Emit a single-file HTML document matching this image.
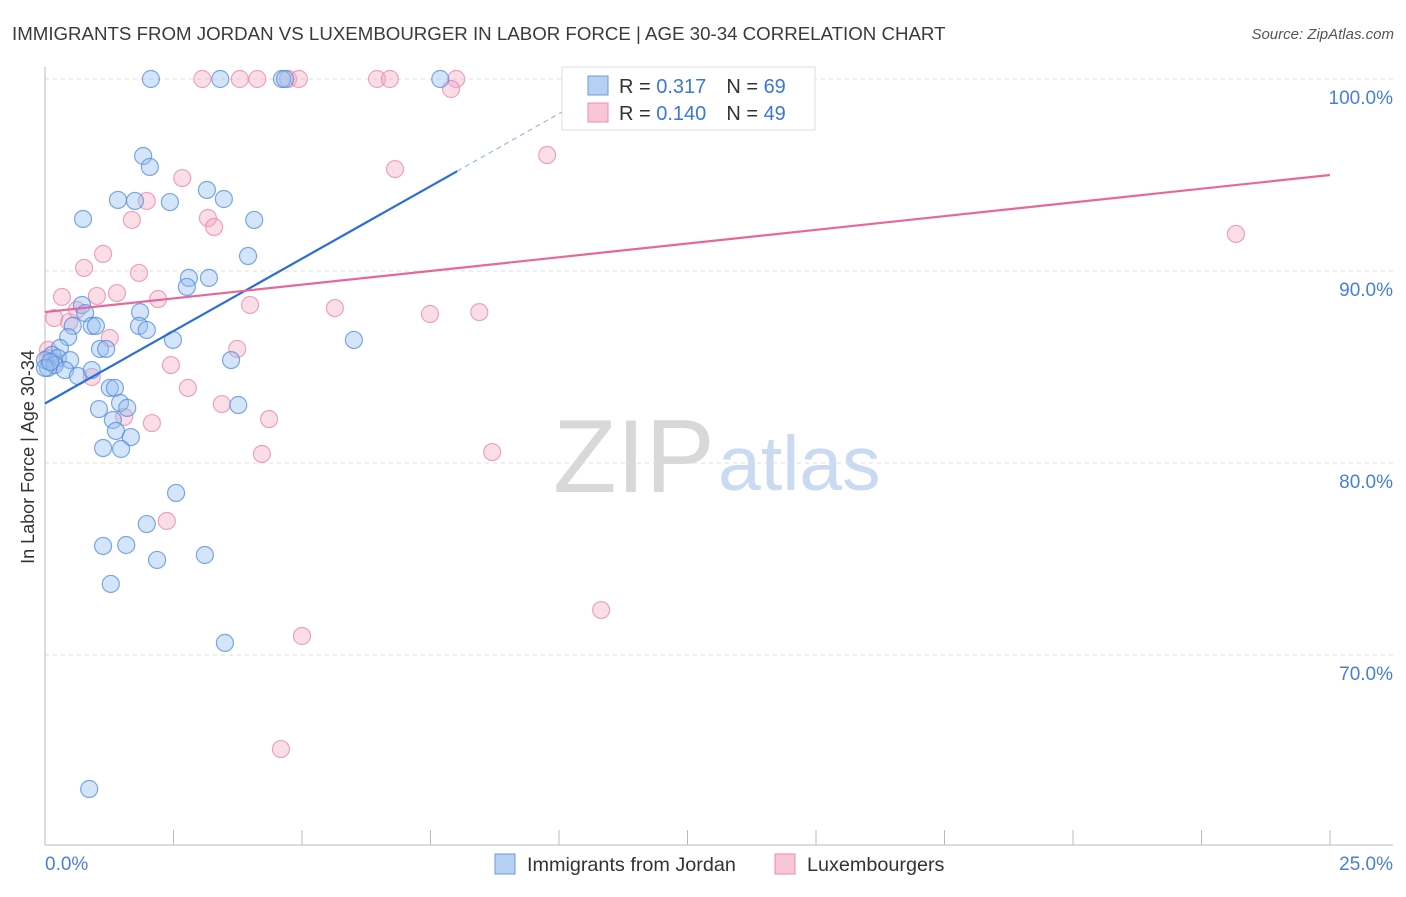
<!DOCTYPE html>
<html><head><meta charset="utf-8">
<style>
body{margin:0;background:#fff;font-family:"Liberation Sans",sans-serif;}
svg text{font-family:"Liberation Sans",sans-serif;}
</style></head>
<body>
<svg id="chart" width="1406" height="892" xmlns="http://www.w3.org/2000/svg">
<text x="12" y="40" font-size="18.7" fill="#3a3a3a">IMMIGRANTS FROM JORDAN VS LUXEMBOURGER IN LABOR FORCE | AGE 30-34 CORRELATION CHART</text>
<text x="1394" y="39" font-size="15" fill="#555" font-style="italic" text-anchor="end">Source: ZipAtlas.com</text>
<text x="553" y="492" font-size="104" fill="#d8d8d8" font-family="Liberation Serif,serif">ZIP</text>
<text x="718" y="490" font-size="77" fill="#c9daf2">atlas</text>
<g id="grid"></g><g id="axes"></g><g id="marks"></g><g id="lines"></g>
<text transform="translate(34,457) rotate(-90)" font-size="18" fill="#333" text-anchor="middle">In Labor Force | Age 30-34</text>
<g>
<rect x="562" y="67" width="253" height="63" fill="#fff" stroke="#ddd"/>
<rect x="588" y="76" width="20" height="19" fill="#b6d0f4" stroke="#6a9be0"/>
<rect x="588" y="103" width="20" height="19" fill="#f8c6d5" stroke="#eb8fad"/>
<text x="619" y="93" font-size="20" fill="#333">R = <tspan fill="#3a78d8">0.317</tspan><tspan dx="20">N = </tspan><tspan fill="#3a78d8">69</tspan></text>
<text x="619" y="120" font-size="20" fill="#333">R = <tspan fill="#3a78d8">0.140</tspan><tspan dx="20">N = </tspan><tspan fill="#3a78d8">49</tspan></text>
</g>
<g>
<rect x="495" y="854" width="20" height="20" fill="#b6d0f4" stroke="#6a9be0"/>
<text x="527" y="871" font-size="19.8" fill="#333">Immigrants from Jordan</text>
<rect x="775" y="854" width="20" height="20" fill="#f8c6d5" stroke="#eb8fad"/>
<text x="807" y="871" font-size="19.8" fill="#333">Luxembourgers</text>
</g>
</svg>
<script>
const blueX=[2.06,3.41,4.61,4.67,7.69,1.91,2.04,1.42,1.75,2.43,3.15,3.48,0.74,4.07,3.95,2.80,2.76,3.19,0.72,0.78,1.85,0.54,0.91,0.99,1.83,1.98,2.49,6.01,0.45,0.29,1.07,1.19,0.14,0,0.25,0.49,0.06,0.19,0.39,0.64,0.91,3.62,1.26,1.36,1.46,1.60,1.05,1.32,1.38,1.67,1.13,1.48,3.76,2.55,1.98,1.13,1.58,3.11,2.18,1.28,3.50,0.86,0,0.10];
const blueY=[100,100,100,100,100,95.99,95.42,93.70,93.65,93.59,94.22,93.75,92.71,92.66,90.78,89.64,89.17,89.64,88.23,87.81,87.86,87.14,87.14,87.14,87.14,86.93,86.41,86.41,86.56,85.99,85.94,85.94,85.63,85.36,85.47,85.36,84.95,85.10,84.84,84.53,84.84,85.36,83.91,83.91,83.13,82.87,82.81,82.24,81.67,81.35,80.78,80.73,83.02,78.44,76.82,75.68,75.73,75.21,74.95,73.70,70.63,63.02,84.95,85.26];
const pinkX=[3.06,3.79,4.13,4.73,4.94,6.46,6.71,8.00,7.90,9.77,6.81,2.67,1.98,1.69,3.17,3.29,1.13,0.76,1.83,0.33,1.01,1.40,2.20,3.99,5.64,7.49,8.45,0.18,0.47,0.62,1.26,0.06,3.74,2.45,0.91,2.78,3.44,2.08,4.36,1.54,4.22,8.70,2.37,10.82,5.00,4.59,23.17,0.06,0.19];
const pinkY=[100,100,100,100,100,100,100,100,99.48,96.04,95.31,94.84,93.65,92.66,92.76,92.29,90.89,90.16,89.90,88.65,88.70,88.85,88.54,88.23,88.07,87.76,87.86,87.55,87.34,87.97,86.51,85.89,85.94,85.10,84.48,83.91,83.07,82.08,82.29,82.40,80.47,80.57,76.98,72.34,70.99,65.10,91.93,85.47,85.26];
const blueTrend=[[0,83.1],[8.02,95.2]];
const blueTrendDash=[[8.02,95.2],[10.6,99.1]];
const pinkTrend=[[0,87.86],[25,95.0]];
const yTicks=[100,90,80,70];
const yTickLabels=["100.0%","90.0%","80.0%","70.0%"];
const xTickLabels=["0.0%","25.0%"];

const NS="http://www.w3.org/2000/svg";
const sx=v=>45+v/25*1285;
const sy=v=>79+(100-v)*19.2;
function mk(tag,parent,attrs){const e=document.createElementNS(NS,tag);for(const k in attrs)e.setAttribute(k,attrs[k]);document.getElementById(parent).appendChild(e);return e;}

yTicks.forEach((t,i)=>{
  const g=mk('line','grid',{x1:45,x2:1393,y1:sy(t),y2:sy(t),stroke:'#dcdcdc','stroke-dasharray':'4,4'});
  
  
  const l=mk('text','grid',{x:1393,y:sy(t)+25,'font-size':19,fill:'#4a7ed8','text-anchor':'end'});
  l.textContent=yTickLabels[i];
  
  
});
const ax=mk('line','axes',{x1:45,x2:45,y1:67,y2:845,stroke:'#bbb'});


const bx=mk('line','axes',{x1:45,x2:1393,y1:845,y2:845,stroke:'#bbb'});


for(let i=0;i<=10;i++){
  const t=mk('line','axes',{x1:sx(i*2.5),x2:sx(i*2.5),y1:830,y2:845,stroke:'#bbb'});
  
  
}
const xl0=mk('text','axes',{x:45,y:870,'font-size':19,fill:'#4a7ed8'});
xl0.textContent=xTickLabels[0];


const xl1=mk('text','axes',{x:1393,y:870,'font-size':19,fill:'#4a7ed8','text-anchor':'end'});
xl1.textContent=xTickLabels[1];



pinkX.forEach((x,i)=>{
  const c=mk('circle','marks',{cx:sx(x),cy:sy(pinkY[i]),r:8.5,fill:'rgba(245,170,195,0.4)',stroke:'rgba(230,130,165,0.7)','stroke-width':1.2});
  
  
});
blueX.forEach((x,i)=>{
  const c=mk('circle','marks',{cx:sx(x),cy:sy(blueY[i]),r:8.5,fill:'rgba(150,190,240,0.4)',stroke:'rgba(80,140,220,0.75)','stroke-width':1.2});
  
  
});
const bl=mk('line','lines',{x1:sx(blueTrend[0][0]),y1:sy(blueTrend[0][1]),x2:sx(blueTrend[1][0]),y2:sy(blueTrend[1][1]),stroke:'#2a6fd6','stroke-width':2.2});


const bd=mk('line','lines',{x1:sx(blueTrendDash[0][0]),y1:sy(blueTrendDash[0][1]),x2:sx(blueTrendDash[1][0]),y2:sy(blueTrendDash[1][1]),stroke:'#9bb8e6','stroke-width':1.2,'stroke-dasharray':'5,4'});


const pl=mk('line','lines',{x1:sx(pinkTrend[0][0]),y1:sy(pinkTrend[0][1]),x2:sx(pinkTrend[1][0]),y2:sy(pinkTrend[1][1]),stroke:'#e8679a','stroke-width':2.2});


</script>
</body></html>
